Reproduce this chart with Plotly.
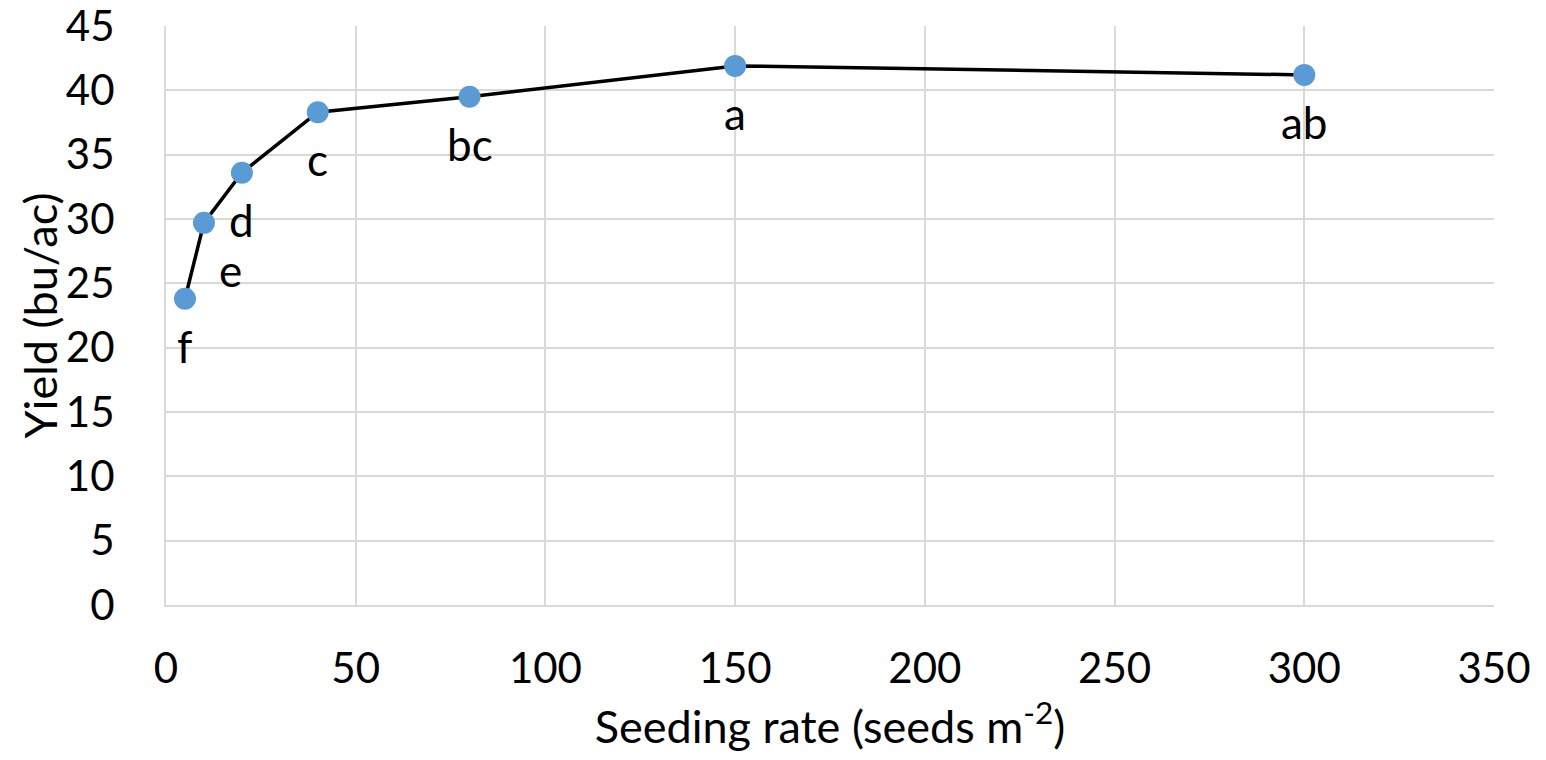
import plotly.graph_objects as go

# Seeding rate trial: mean yield per rate with mean-separation letters
seeding_rate = [5, 10, 20, 40, 80, 150, 300]
yield_bu_ac = [23.8, 29.7, 33.6, 38.3, 39.5, 41.9, 41.2]
letters = ["f", "e", "d", "c", "bc", "a", "ab"]
x_ticks = [0, 50, 100, 150, 200, 250, 300, 350]
y_ticks = [0, 5, 10, 15, 20, 25, 30, 35, 40, 45]
x_title = "Seeding rate (seeds m<sup>-2</sup>)"
y_title = "Yield (bu/ac)"

FONT = "Lato"
GRID = "#D9D9D9"

fig = go.Figure()
fig.add_trace(go.Scatter(
    x=seeding_rate, y=yield_bu_ac,
    mode="lines+markers",
    line=dict(color="black", width=3.5),
    marker=dict(size=22, color="#5B9BD5"),
    showlegend=False,
    hoverinfo="x+y",
))

# letter labels under each point ("e" sits a little to the right)
for xv, yv, lab in zip(seeding_rate, yield_bu_ac, letters):
    fig.add_annotation(
        x=xv, y=yv, text=lab, showarrow=False,
        xshift=27 if lab == "e" else 0, yshift=-47,
        font=dict(family=FONT, size=44, color="black"),
    )

# vertical axis title, placed to the left of the tick labels
fig.add_annotation(
    xref="paper", yref="paper", x=0, y=0.5, xshift=-127,
    text=y_title, textangle=-90, showarrow=False,
    xanchor="center", yanchor="middle",
    font=dict(family=FONT, size=45, color="black"),
)

fig.update_layout(
    width=1546, height=760,
    margin=dict(l=166, r=52, t=26, b=155),
    paper_bgcolor="white", plot_bgcolor="white",
    font=dict(family=FONT, color="black"),
)
fig.update_xaxes(
    range=[0, 350], tickvals=x_ticks, automargin=False,
    ticklabeloverflow="allow",
    showgrid=True, gridcolor=GRID, gridwidth=2,
    showline=True, linecolor=GRID, linewidth=2, mirror=False,
    zeroline=False, ticks="", ticklabelstandoff=26,
    tickfont=dict(family=FONT, size=42, color="black"),
    title=dict(text=x_title,
               font=dict(family=FONT, size=45, color="black"), standoff=20),
)
fig.update_yaxes(
    range=[0, 45], tickvals=y_ticks, automargin=False,
    ticklabeloverflow="allow",
    showgrid=True, gridcolor=GRID, gridwidth=2,
    showline=True, linecolor=GRID, linewidth=2,
    zeroline=False, ticks="", ticklabelstandoff=41,
    tickfont=dict(family=FONT, size=42, color="black"),
)

fig.write_html("out.html")
